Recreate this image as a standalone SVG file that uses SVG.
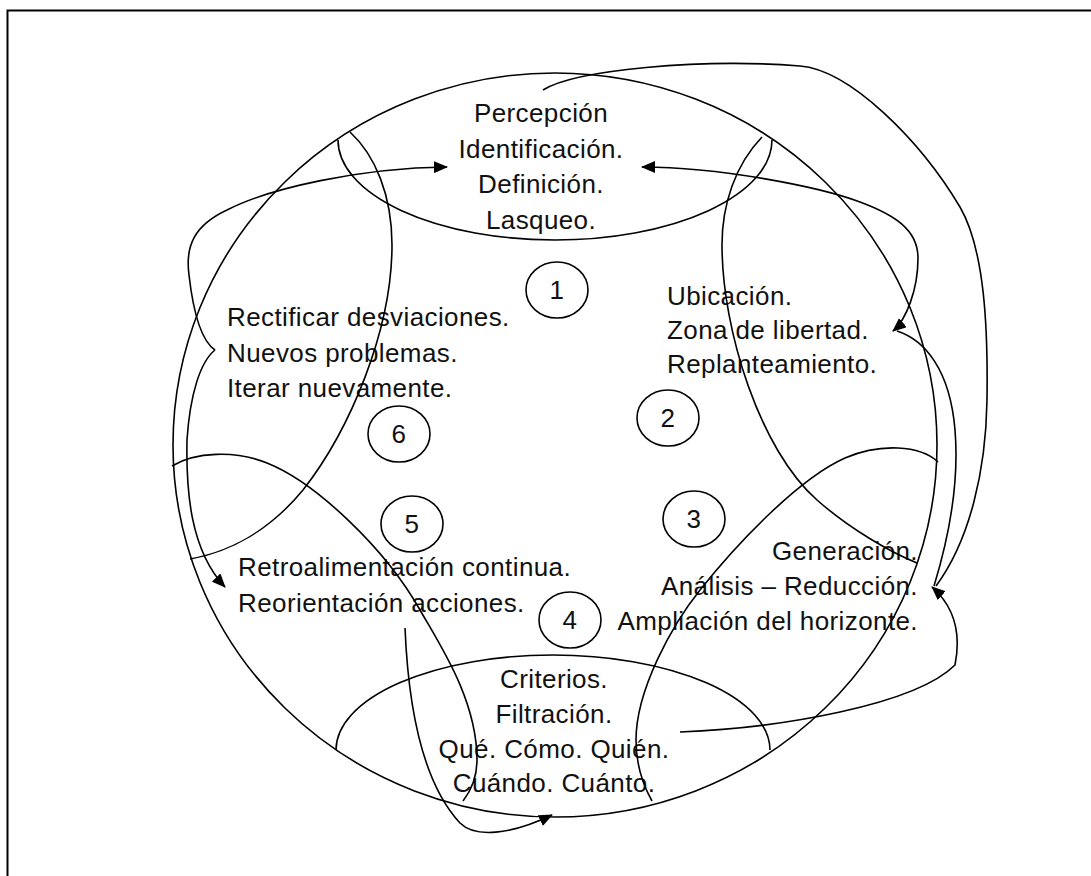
<svg xmlns="http://www.w3.org/2000/svg" width="1091" height="876" viewBox="0 0 1091 876">
<style>
.ln{fill:none;stroke:#000;stroke-width:1.6}
.t{font-family:"Liberation Sans",Arial,sans-serif;font-size:26px;letter-spacing:0.4px;fill:#111}
.m{text-anchor:middle}
.e{text-anchor:end}
</style>
<defs>
<marker id="arr" markerWidth="14" markerHeight="12" refX="13" refY="6" orient="auto" markerUnits="userSpaceOnUse"><path d="M0,0 L14,6 L0,12 z" fill="#000"/></marker>
<marker id="arrS" markerWidth="14" markerHeight="12" refX="13" refY="6" orient="auto-start-reverse" markerUnits="userSpaceOnUse"><path d="M0,0 L14,6 L0,12 z" fill="#000"/></marker>
</defs>
<rect width="1091" height="876" fill="#fff"/>
<rect x="7.5" y="10.5" width="1100" height="900" fill="none" stroke="#000" stroke-width="2"/>

<g id="cycle">
<ellipse class="ln" cx="555" cy="445" rx="382" ry="372"/>
</g>

<g id="n-percepcion">
<path class="ln" d="M338,140 A217,100 0 0 0 772,140"/>
<text class="t m" x="541" y="122">Percepción</text>
<text class="t m" x="541" y="158">Identificación.</text>
<text class="t m" x="541" y="193">Definición.</text>
<text class="t m" x="541" y="229">Lasqueo.</text>
</g>

<g id="n-ubicacion">
<text class="t" x="667" y="305">Ubicación.</text>
<text class="t" x="667" y="339">Zona de libertad.</text>
<text class="t" x="667" y="373">Replanteamiento.</text>
</g>

<g id="n-generacion">
<text class="t e" x="918" y="560">Generación.</text>
<text class="t e" x="918" y="595">Análisis – Reducción.</text>
<text class="t e" x="918" y="630">Ampliación del horizonte.</text>
</g>

<g id="n-criterios">
<path class="ln" d="M336,750 A217,95 0 0 1 770,750"/>
<text class="t m" x="554" y="688">Criterios.</text>
<text class="t m" x="554" y="723">Filtración.</text>
<text class="t m" x="554" y="758">Qué. Cómo. Quién.</text>
<text class="t m" x="554" y="792">Cuándo. Cuánto.</text>
</g>

<g id="n-retro">
<text class="t" x="238" y="576">Retroalimentación continua.</text>
<text class="t" x="238" y="612">Reorientación acciones.</text>
</g>

<g id="n-rectificar">
<text class="t" x="227" y="326">Rectificar desviaciones.</text>
<text class="t" x="227" y="362">Nuevos problemas.</text>
<text class="t" x="227" y="397">Iterar nuevamente.</text>
</g>

<g id="num-1"><ellipse class="ln" cx="557" cy="290" rx="31" ry="28"/><text class="t m" x="557" y="299">1</text></g>
<g id="num-2"><ellipse class="ln" cx="668" cy="418" rx="31" ry="28"/><text class="t m" x="668" y="427">2</text></g>
<g id="num-3"><ellipse class="ln" cx="694" cy="519" rx="31" ry="28"/><text class="t m" x="694" y="528">3</text></g>
<g id="num-4"><ellipse class="ln" cx="570" cy="620" rx="31" ry="28"/><text class="t m" x="570" y="629">4</text></g>
<g id="num-5"><ellipse class="ln" cx="412" cy="524" rx="31" ry="28"/><text class="t m" x="412" y="533">5</text></g>
<g id="num-6"><ellipse class="ln" cx="399" cy="434" rx="31" ry="28"/><text class="t m" x="399" y="443">6</text></g>

<g id="connectors">
<!-- petal arcs -->
<path class="ln" d="M350,132 C375,155 392,195 392,245 C392,330 350,430 303,490 C270,530 230,552 190,559"/>
<path class="ln" d="M172,466 C195,452 235,450 267,463 C315,482 385,548 420,610 C440,645 477,700 477,760 C477,780 470,792 463,801"/>
<path class="ln" d="M762,137 C735,165 722,205 722,245 C722,330 760,450 817,500 C850,529 890,552 917,563"/>
<path class="ln" d="M938,462 C920,445 880,443 845,458 C800,478 740,540 700,590 C672,625 636,690 636,740 C636,765 643,785 652,801"/>
<!-- left brace -->
<path class="ln" marker-end="url(#arr)" d="M215,350 C200,340 193,310 189,275 C185,245 195,225 227,210 C270,188 360,168 447,167"/>
<path class="ln" marker-end="url(#arr)" d="M215,350 C200,362 190,395 187,440 C186,490 190,550 225,587"/>
<!-- right brace -->
<path class="ln" marker-start="url(#arrS)" marker-end="url(#arr)" d="M893,331 C906,320 918,290 918,258 C918,230 895,215 860,202 C820,187 720,167 642,167"/>
<path class="ln" d="M897,331 C925,340 950,370 955,430 C960,490 945,550 934,586"/>
<!-- big loop -->
<path class="ln" d="M543,90 C575,70 700,58 800,66 C850,70 920,140 960,207 C985,250 988,330 987,400 C986,470 970,540 936,586"/>
<!-- from Criterios to Análisis -->
<path class="ln" marker-end="url(#arr)" d="M680,732 C780,728 915,705 955,665 C960,640 958,610 932,587"/>
<!-- bottom hook -->
<path class="ln" marker-end="url(#arr)" d="M405,628 C408,700 420,780 460,823 C475,838 510,835 552,815"/>
</g>
</svg>
